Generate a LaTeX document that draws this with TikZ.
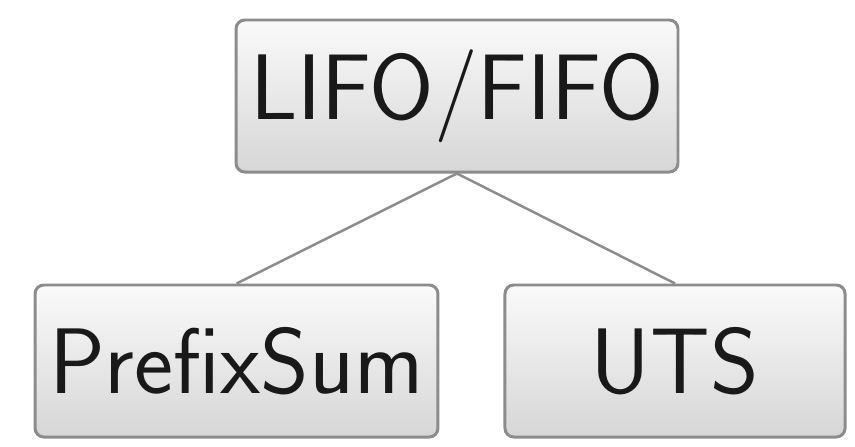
\documentclass[tikz,border=0pt]{standalone}
\usepackage{fontspec}
\usepackage{xcolor}
\usetikzlibrary{positioning}

\tikzset{
  treebox/.style={draw=black!45, line width=1.7pt, rounded corners=5pt,
    top color=black!2, bottom color=black!16,
    minimum height=86.5pt, inner xsep=8pt, text=black!90,
    font=\sffamily\fontsize{53}{60}\selectfont},
  treeline/.style={draw=black!45, line width=1.4pt}
}

\begin{document}
\begin{tikzpicture}
\useasboundingbox (0, 0) rectangle (17.1, -8.92);
\node [treebox, minimum width=251.5pt] (lifo) at (9.14, -1.92) {LIFO/FIFO};
\node [treebox, minimum width=229pt] (prefix) at (4.73, -7.22) {PrefixSum};
\node [treebox, minimum width=193.5pt] (uts) at (13.5, -7.22) {UTS};
\draw [treeline] (lifo.south) -- (prefix.north);
\draw [treeline] (lifo.south) -- (uts.north);
\end{tikzpicture}
\end{document}
